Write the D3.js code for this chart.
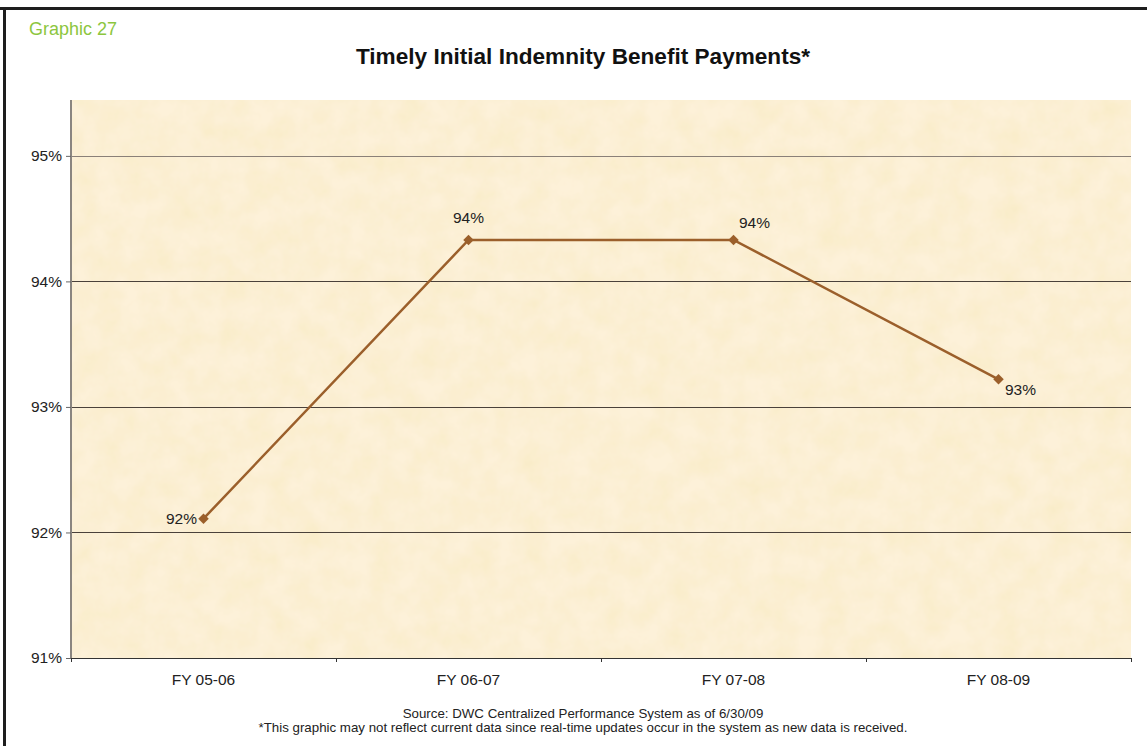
<!DOCTYPE html>
<html lang="en">
<head>
  <meta charset="UTF-8" />
  <title>Timely Initial Indemnity Benefit Payments</title>
  <script src="https://d3js.org/d3.v7.min.js"></script>
  <style>
    body { margin: 0; padding: 0; background: #fff; font-family: "Liberation Sans", Arial, sans-serif; }
    svg text { font-family: "Liberation Sans", Arial, sans-serif; }
  </style>
</head>
<body>
  <div id="chart"></div>
  <script>
    const years = ["FY 05-06", "FY 06-07", "FY 07-08", "FY 08-09"];
    const values = [92.11, 94.33, 94.33, 93.22];
    const labels = ["92%", "94%", "94%", "93%"];
    const yTicks = [91, 92, 93, 94, 95];

    const width = 1147, height = 746;
    const margin = { top: 100, right: 16, bottom: 88, left: 71 };
    const innerW = width - margin.left - margin.right;
    const innerH = height - margin.top - margin.bottom;

    const svg = d3.select("#chart").append("svg")
      .attr("width", width)
      .attr("height", height);

    // frame lines (top + left)
    svg.append("rect").attr("x", 0).attr("y", 7).attr("width", width).attr("height", 3).attr("fill", "#1e1e1e");
    svg.append("rect").attr("x", 3).attr("y", 7).attr("width", 3).attr("height", height).attr("fill", "#1e1e1e");

    svg.append("text")
      .attr("x", 29).attr("y", 35)
      .attr("fill", "#8cc63e")
      .style("font-size", "18px")
      .text("Graphic 27");

    svg.append("text")
      .attr("x", 583).attr("y", 64)
      .attr("text-anchor", "middle")
      .style("font-size", "22.6px")
      .style("font-weight", "bold")
      .attr("fill", "#111")
      .text("Timely Initial Indemnity Benefit Payments*");

    // parchment texture
    const defs = svg.append("defs");
    const filt = defs.append("filter").attr("id", "paper").attr("x", 0).attr("y", 0).attr("width", "100%").attr("height", "100%");
    filt.append("feTurbulence").attr("type", "fractalNoise").attr("baseFrequency", 0.04).attr("numOctaves", 4).attr("seed", 7).attr("result", "noise");
    filt.append("feColorMatrix").attr("in", "noise").attr("type", "matrix")
      .attr("values", "0 0 0 0 0.94  0 0 0 0 0.83  0 0 0 0 0.56  0 0 0 1.2 -0.3").attr("result", "tint");
    filt.append("feComposite").attr("in", "tint").attr("in2", "SourceGraphic").attr("operator", "atop");

    const g = svg.append("g").attr("transform", `translate(${margin.left},${margin.top})`);

    g.append("rect").attr("width", innerW).attr("height", innerH).attr("fill", "#fdf1d9").attr("filter", "url(#paper)");

    const x = d3.scaleBand().domain(years).range([0, innerW]);
    const y = d3.scaleLinear().domain([91, 95.445]).range([innerH, 0]);

    // gridlines
    g.selectAll(".grid").data(yTicks.slice(1)).enter().append("line")
      .attr("x1", 0).attr("x2", innerW)
      .attr("y1", d => Math.round(y(d)) + 0.5).attr("y2", d => Math.round(y(d)) + 0.5)
      .attr("stroke", d => d === 95 ? "#8a8078" : "#4a413a")
      .attr("stroke-width", 1);

    // y axis
    const yAxis = g.append("g")
      .call(d3.axisLeft(y).tickValues(yTicks).tickFormat(d => d + "%").tickSize(5).tickPadding(4));
    yAxis.select(".domain").attr("stroke", "#8a8580").attr("stroke-width", 2).attr("d", `M0,0V${innerH}`);
    yAxis.selectAll(".tick line").attr("stroke", "#666");
    yAxis.selectAll("text").style("font-size", "15.5px").attr("fill", "#222");

    // x axis
    const xAxis = g.append("g").attr("transform", `translate(0,${innerH})`)
      .call(d3.axisBottom(x).tickSize(0).tickPadding(16));
    xAxis.select(".domain").attr("stroke", "#333");
    xAxis.selectAll("text").style("font-size", "15.5px").attr("fill", "#222");
    g.selectAll(".xtick").data(years.concat([null])).enter().append("line")
      .attr("x1", (d, i) => Math.round(i * x.step()) + 0.5)
      .attr("x2", (d, i) => Math.round(i * x.step()) + 0.5)
      .attr("y1", innerH).attr("y2", innerH + 4)
      .attr("stroke", "#333");

    const cx = d => x(d) + x.bandwidth() / 2;

    const line = d3.line().x((d, i) => cx(years[i])).y(d => y(d));
    g.append("path").datum(values)
      .attr("d", line)
      .attr("fill", "none")
      .attr("stroke", "#9b5f2b")
      .attr("stroke-width", 2.5);

    g.selectAll(".pt").data(values).enter().append("path")
      .attr("d", d3.symbol(d3.symbolDiamond2, 70))
      .attr("transform", (d, i) => `translate(${cx(years[i])},${y(d)})`)
      .attr("fill", "#9b5f2b");

    const labelOffsets = [[-22, 5, "middle"], [0, -17, "middle"], [21, -12, "middle"], [22, 16, "middle"]];
    g.selectAll(".lbl").data(values).enter().append("text")
      .attr("x", (d, i) => cx(years[i]) + labelOffsets[i][0])
      .attr("y", (d, i) => y(d) + labelOffsets[i][1])
      .attr("text-anchor", (d, i) => labelOffsets[i][2])
      .style("font-size", "15.5px")
      .attr("fill", "#222")
      .text((d, i) => labels[i]);

    svg.append("text").attr("x", 583).attr("y", 718).attr("text-anchor", "middle")
      .style("font-size", "13.3px").attr("fill", "#222")
      .text("Source: DWC Centralized Performance System as of 6/30/09");
    svg.append("text").attr("x", 583).attr("y", 732).attr("text-anchor", "middle")
      .style("font-size", "13.3px").attr("fill", "#222")
      .text("*This graphic may not reflect current data since real-time updates occur in the system as new data is received.");
  </script>
</body>
</html>
